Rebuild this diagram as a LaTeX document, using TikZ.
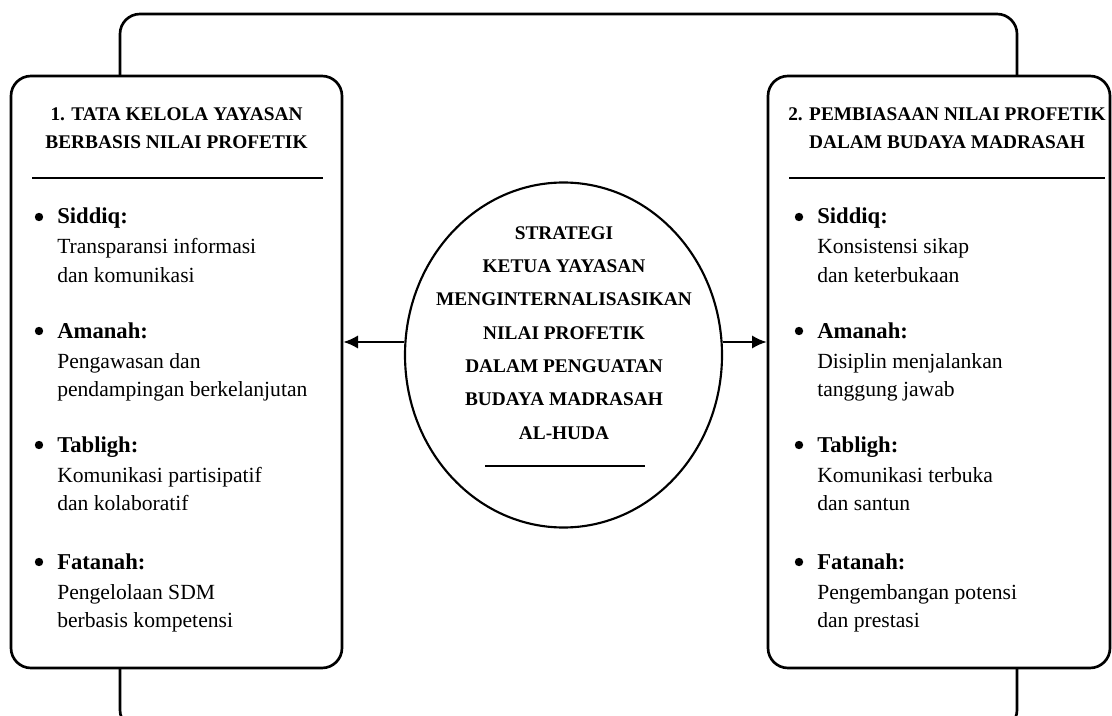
\documentclass[tikz,border=0pt]{standalone}
\usepackage{fontspec}
\setmainfont{Liberation Serif}
\usetikzlibrary{shapes.geometric,arrows.meta}

\tikzset{
  panel/.style={draw, line width=2pt, rounded corners=15pt, fill=white, inner sep=0pt},
  hub/.style={draw, ellipse, line width=1.6pt, fill=white, inner sep=0pt,
    minimum width=237.75pt, minimum height=258.75pt},
  headtext/.style={align=center, inner sep=0pt, font=\fontsize{14.5}{21}\selectfont\bfseries},
  hubtext/.style={align=center, inner sep=0pt, font=\fontsize{14.5}{25}\selectfont\bfseries},
  dotmark/.style={circle, fill, inner sep=0pt, minimum size=6.3pt},
  keytext/.style={anchor=base west, inner sep=0pt, font=\fontsize{17}{20}\selectfont\bfseries},
  bodytext/.style={anchor=base west, inner sep=0pt, font=\fontsize{16.2}{20}\selectfont},
  rule/.style={line width=1.6pt},
  arr/.style={line width=1.6pt, -{Latex[length=11pt,width=10pt]}},
}

\begin{document}
\begin{tikzpicture}[x=0.75pt,y=-0.75pt]
  \useasboundingbox (0,0) rectangle (1112,716);
  \clip (0,0) rectangle (1112,716);

  % back frame
  \draw [line width=2pt, rounded corners=15pt] (120,14) rectangle (1017,730);

  % panels
  \node [panel, minimum width=248.25pt, minimum height=444pt] (lbox) at (176.5,372) {};
  \node [panel, minimum width=256.5pt, minimum height=444pt] (rbox) at (939,372) {};

  % centre ellipse
  \node [hub] (core) at (563.5,355) {};
  \node [hubtext] (coretext) at (564,333) {STRATEGI\\KETUA YAYASAN\\MENGINTERNALISASIKAN\\NILAI PROFETIK\\DALAM PENGUATAN\\BUDAYA MADRASAH\\AL-HUDA};
  \draw [rule] (485,466) -- (645,466);

  % arrows
  \coordinate (lpt) at ([yshift=9.75pt]core.west);
  \coordinate (rpt) at ([yshift=9.75pt]core.east);
  \draw [arr] (lpt) -- (lpt -| lbox.east);
  \draw [arr] (rpt) -- (rpt -| rbox.west);

  % left panel
  \node [headtext] (ltitle) at (176.5,128) {1. TATA KELOLA YAYASAN\\BERBASIS NILAI PROFETIK};
  \draw [rule] (32,178) -- (323,178);

  \node [dotmark] (lb1) at (39,217) {};
  \node [keytext] (lk1) at (57,224) {Siddiq:};
  \node [bodytext] (ld1a) at (57,254) {Transparansi informasi};
  \node [bodytext] (ld1b) at (57,282) {dan komunikasi};

  \node [dotmark] (lb2) at (39,331) {};
  \node [keytext] (lk2) at (57,338) {Amanah:};
  \node [bodytext] (ld2a) at (57,368) {Pengawasan dan};
  \node [bodytext] (ld2b) at (57,396) {pendampingan berkelanjutan};

  \node [dotmark] (lb3) at (39,445) {};
  \node [keytext] (lk3) at (57,452) {Tabligh:};
  \node [bodytext] (ld3a) at (57,482) {Komunikasi partisipatif};
  \node [bodytext] (ld3b) at (57,510) {dan kolaboratif};

  \node [dotmark] (lb4) at (39,562) {};
  \node [keytext] (lk4) at (57,569) {Fatanah:};
  \node [bodytext] (ld4a) at (57,599) {Pengelolaan SDM};
  \node [bodytext] (ld4b) at (57,627) {berbasis kompetensi};

  % right panel
  \node [headtext] (rtitle) at (947,128) {2. PEMBIASAAN NILAI PROFETIK\\DALAM BUDAYA MADRASAH};
  \draw [rule] (789,178) -- (1105,178);

  \node [dotmark] (rb1) at (799,217) {};
  \node [keytext] (rk1) at (817,224) {Siddiq:};
  \node [bodytext] (rd1a) at (817,254) {Konsistensi sikap};
  \node [bodytext] (rd1b) at (817,282) {dan keterbukaan};

  \node [dotmark] (rb2) at (799,331) {};
  \node [keytext] (rk2) at (817,338) {Amanah:};
  \node [bodytext] (rd2a) at (817,368) {Disiplin menjalankan};
  \node [bodytext] (rd2b) at (817,396) {tanggung jawab};

  \node [dotmark] (rb3) at (799,445) {};
  \node [keytext] (rk3) at (817,452) {Tabligh:};
  \node [bodytext] (rd3a) at (817,482) {Komunikasi terbuka};
  \node [bodytext] (rd3b) at (817,510) {dan santun};

  \node [dotmark] (rb4) at (799,562) {};
  \node [keytext] (rk4) at (817,569) {Fatanah:};
  \node [bodytext] (rd4a) at (817,599) {Pengembangan potensi};
  \node [bodytext] (rd4b) at (817,627) {dan prestasi};
\end{tikzpicture}
\end{document}
